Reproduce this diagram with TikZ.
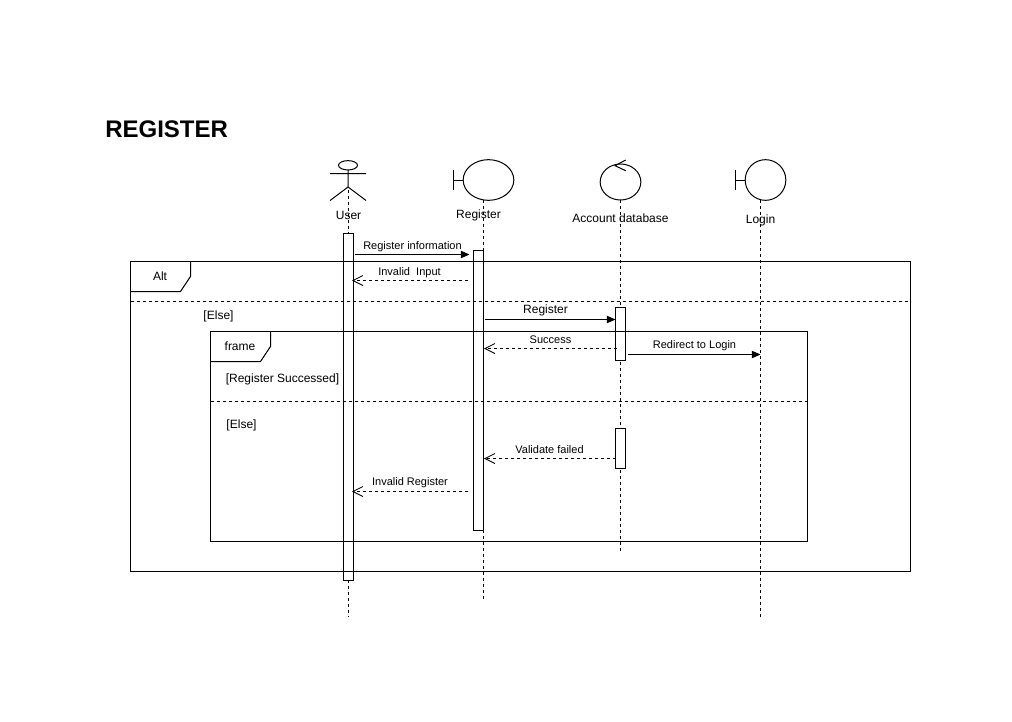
\documentclass[tikz,border=0pt]{standalone}
\usepackage{fontspec}
\setmainfont{Liberation Sans}
\usetikzlibrary{arrows.meta,shapes.geometric}
\tikzset{
  x=0.75pt,y=-0.75pt,
  ln/.style={draw=black,line width=0.75pt},
  lifeline/.style={ln,dash pattern=on 2.25pt off 2.25pt},
  bar/.style={ln,fill=white,minimum width=7.5pt,inner sep=0pt,outer sep=0pt,anchor=north west},
  framebox/.style={ln,inner sep=0pt,outer sep=0pt,anchor=north west},
  sep/.style={ln,dash pattern=on 2.25pt off 2.25pt},
  sync/.style={ln,-{Triangle[length=6.5pt,width=5.5pt]}},
  reply/.style={ln,dash pattern=on 2.25pt off 2.25pt,-{Straight Barb[length=7.5pt,width=7.5pt,line width=0.6pt]}},
  lab/.style={font=\fontsize{8.25pt}{10pt}\selectfont,inner sep=0pt},
  labm/.style={font=\fontsize{9pt}{11pt}\selectfont,inner sep=0pt},
}
\begin{document}
\begin{tikzpicture}
\useasboundingbox (0,0) rectangle (1012,721);
\fill[white] (0,0) rectangle (1012,721);

% title
\node[font=\bfseries\fontsize{18pt}{20pt}\selectfont,inner sep=0pt,anchor=west] (title) at (105,129.5) {REGISTER};

% lifelines
\coordinate (userS) at (348,190);
\coordinate (userE) at (348,617);
\coordinate (regS) at (483.5,200);
\coordinate (regE) at (483.5,600);
\coordinate (dbS) at (620.5,200);
\coordinate (dbE) at (620.5,551);
\coordinate (logS) at (760.5,200);
\coordinate (logE) at (760.5,617);
\draw[lifeline] (userS) -- (userE);
\draw[lifeline] (regS) -- (regE);
\draw[lifeline] (dbS) -- (dbE);
\draw[lifeline] (logS) -- (logE);

% lifeline heads
\node[ln,ellipse,minimum width=14.25pt,minimum height=7pt,inner sep=0pt,outer sep=0pt] (userhead) at (348,165.3) {};
\coordinate (hip) at (348,187);
\coordinate (armL) at (330,173.5);
\coordinate (armR) at (366,173.5);
\coordinate (legL) at (330,200.5);
\coordinate (legR) at (366,200.5);
\draw[ln] (userhead.south) -- (hip) (armL) -- (armR) (legL) -- (hip) -- (legR);

\node[ln,ellipse,minimum width=38pt,minimum height=30.5pt,inner sep=0pt,outer sep=0pt] (reg) at (488.5,180) {};
\coordinate (regT) at (453,170);
\coordinate (regB) at (453,190);
\coordinate (regM) at (453,180);
\draw[ln] (regT) -- (regB) (regM) -- (reg.west);

\node[ln,ellipse,minimum width=30.5pt,minimum height=27pt,inner sep=0pt,outer sep=0pt] (db) at (620.5,182) {};
\coordinate (dbTip) at (615,165.7);
\coordinate (dbA) at (625.7,160);
\coordinate (dbB) at (625.7,170.7);
\draw[ln] (dbA) -- (dbTip) -- (dbB);

\node[ln,circle,minimum size=30.5pt,inner sep=0pt,outer sep=0pt] (login) at (765.5,180) {};
\coordinate (logT) at (735.5,170);
\coordinate (logB) at (735.5,190);
\coordinate (logM) at (735.5,180);
\draw[ln] (logT) -- (logB) (logM) -- (login.west);

% activation bars
\node[bar,minimum height=260.25pt] (userbar) at (343,233.5) {};
\node[bar,minimum height=210pt] (regbar) at (473.5,250.5) {};
\node[bar,minimum height=39.75pt] (dbbar1) at (615.5,307.5) {};
\node[bar,minimum height=30pt] (dbbar2) at (615.5,428.5) {};

% frames
\node[framebox,minimum width=585pt,minimum height=232.5pt] (alt) at (130.5,261.5) {};
\coordinate (altA) at (190.5,261.5);
\coordinate (altB) at (190.5,276.5);
\coordinate (altC) at (180.5,291.5);
\coordinate (altD) at (130.5,291.5);
\draw[ln] (altA) -- (altB) -- (altC) -- (altD);
\coordinate (altSepL) at (130.5,301);
\coordinate (altSepR) at (910.5,301);
\draw[sep] (altSepL) -- (altSepR);

\node[framebox,minimum width=447.75pt,minimum height=157.5pt] (frm) at (210.5,331.5) {};
\coordinate (frmA) at (270.5,331.5);
\coordinate (frmB) at (270.5,346.5);
\coordinate (frmC) at (260.5,361.5);
\coordinate (frmD) at (210.5,361.5);
\draw[ln] (frmA) -- (frmB) -- (frmC) -- (frmD);
\coordinate (frmSepL) at (210.5,401.5);
\coordinate (frmSepR) at (807.5,401.5);
\draw[sep] (frmSepL) -- (frmSepR);

% head labels
\node[labm] (tuser) at (348.5,215) {User};
\node[labm] (treg) at (478.5,215) {Register};
\node[labm] (tdb) at (620.5,218) {Account database};
\node[labm] (tlog) at (760.5,220.5) {Login};

% frame labels
\node[labm] (talt) at (160,276) {Alt};
\node[labm] (tfrm) at (240,346) {frame};
\node[labm] (telse1) at (218.5,316.7) {[Else]};
\node[labm] (tsucc) at (282.5,379.7) {[Register Successed]};
\node[labm] (telse2) at (241.5,425.7) {[Else]};

% messages
\coordinate (m1a) at (355,254.5);
\coordinate (m1b) at (469.5,254.5);
\draw[sync] (m1a) -- (m1b);
\node[lab] (l1) at (412.5,246.2) {Register information};

\coordinate (m2a) at (468,280.5);
\coordinate (m2b) at (352,280.5);
\draw[reply] (m2a) -- (m2b);
\node[lab] (l2) at (409.5,272.2) {Invalid\ \ Input};

\coordinate (m3a) at (485,319.5);
\coordinate (m3b) at (615.5,319.5);
\draw[sync] (m3a) -- (m3b);
\node[labm] (l3) at (545.5,310.7) {Register};

\coordinate (m4a) at (617,348.5);
\coordinate (m4b) at (484,348.5);
\draw[reply] (m4a) -- (m4b);
\node[lab] (l4) at (550.5,339.8) {Success};

\coordinate (m5a) at (628,354.5);
\coordinate (m5b) at (760.5,354.5);
\draw[sync] (m5a) -- (m5b);
\node[lab] (l5) at (694.5,346) {Redirect to Login};

\coordinate (m6a) at (616,458.5);
\coordinate (m6b) at (484,458.5);
\draw[reply] (m6a) -- (m6b);
\node[lab] (l6) at (549.5,450) {Validate failed};

\coordinate (m7a) at (468,491.5);
\coordinate (m7b) at (352,491.5);
\draw[reply] (m7a) -- (m7b);
\node[lab] (l7) at (410,483) {Invalid Register};
\end{tikzpicture}
\end{document}
